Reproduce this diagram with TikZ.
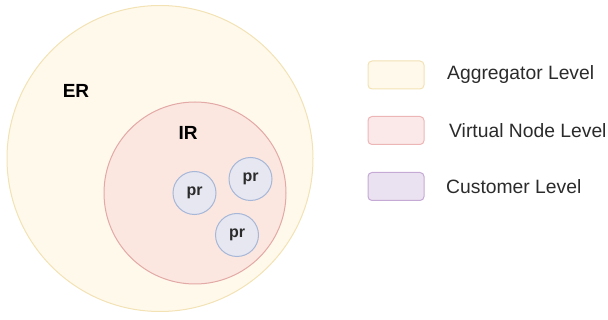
\documentclass[tikz,border=0pt]{standalone}
\usepackage{fontspec}
\setmainfont{Liberation Sans}
\definecolor{yfill}{HTML}{FFF9EC}
\definecolor{ydraw}{HTML}{F2E2B4}
\definecolor{rfill}{HTML}{FBE7DF}
\definecolor{rdraw}{HTML}{E3A9A6}
\definecolor{bfill}{HTML}{E6E7F1}
\definecolor{bdraw}{HTML}{A6B7D8}
\definecolor{pfill}{HTML}{FBE9E9}
\definecolor{pdraw}{HTML}{EDB6B6}
\definecolor{vfill}{HTML}{EAE2F0}
\definecolor{vdraw}{HTML}{C6AAD6}
\definecolor{txt}{HTML}{2B2B2B}
\tikzset{
  zone/.style={circle, line width=1pt, inner sep=0pt},
  prnode/.style={circle, fill=bfill, draw=bdraw, line width=1pt, minimum size=43pt, inner sep=0pt, font=\fontsize{16}{18}\selectfont\bfseries, text=txt},
  lbl/.style={font=\fontsize{19}{22}\selectfont\bfseries, text=black, inner sep=0pt},
  legbox/.style={rounded corners=4pt, line width=1pt, minimum width=56pt, minimum height=28pt, inner sep=0pt},
  legtext/.style={anchor=west, font=\fontsize{19.3}{22}\selectfont, text=txt, inner sep=0pt}
}
\begin{document}
\begin{tikzpicture}[x=1pt,y=-1pt]
\useasboundingbox (0,0) rectangle (608,320);
\node[zone, fill=yfill, draw=ydraw, minimum size=306pt] (er) at (160,158.5) {};
\node[zone, fill=rfill, draw=rdraw, minimum size=182pt] (ir) at (195,193) {};
\node[prnode] (pr1) at (194.5,193) {pr};
\node[prnode] (pr2) at (250.5,179) {pr};
\node[prnode] (pr3) at (237,235) {pr};
\node[lbl] (ertext) at (76,91) {ER};
\node[lbl] (irtext) at (188,133) {IR};
\node[legbox, fill=yfill, draw=ydraw] (leg1) at (396,75) {};
\node[legbox, fill=pfill, draw=pdraw] (leg2) at (396,130.5) {};
\node[legbox, fill=vfill, draw=vdraw] (leg3) at (396,186.5) {};
\node[legtext] (t1) at (447,75) {Aggregator Level};
\node[legtext] (t2) at (449,131) {Virtual Node Level};
\node[legtext] (t3) at (446,187) {Customer Level};
\end{tikzpicture}
\end{document}
